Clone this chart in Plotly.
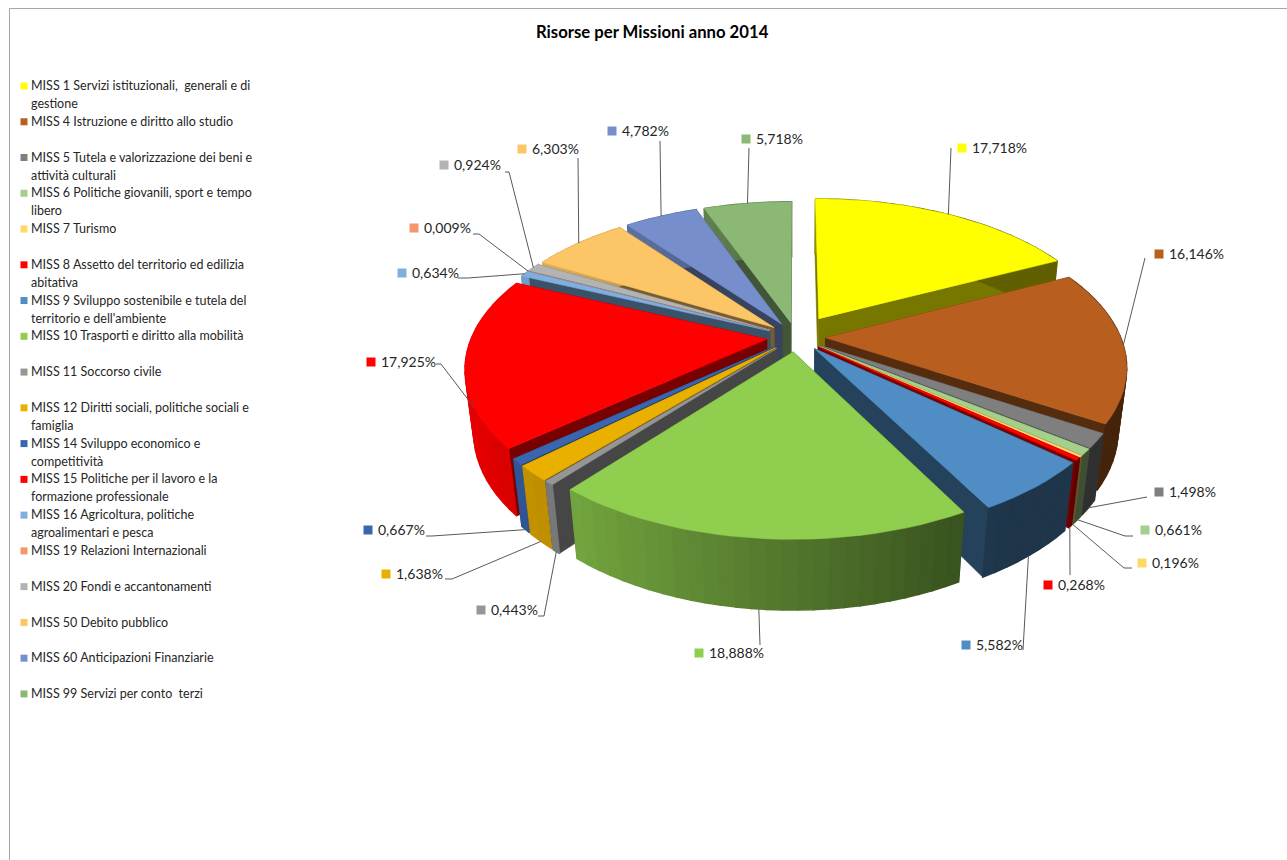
import math
import plotly.graph_objects as go

# ---------- data ----------
TITLE = "Risorse per Missioni anno 2014"
CATEGORIES = [
    "MISS 1 Servizi istituzionali,  generali e di<br>gestione",
    "MISS 4 Istruzione e diritto allo studio",
    "MISS 5 Tutela e valorizzazione dei beni e<br>attività culturali",
    "MISS 6 Politiche giovanili, sport e tempo<br>libero",
    "MISS 7 Turismo",
    "MISS 8 Assetto del territorio ed edilizia<br>abitativa",
    "MISS 9 Sviluppo sostenibile e tutela del<br>territorio e dell'ambiente",
    "MISS 10 Trasporti e diritto alla mobilità",
    "MISS 11 Soccorso civile",
    "MISS 12 Diritti sociali, politiche sociali e<br>famiglia",
    "MISS 14 Sviluppo economico e<br>competitività",
    "MISS 15 Politiche per il lavoro e la<br>formazione professionale",
    "MISS 16 Agricoltura, politiche<br>agroalimentari e pesca",
    "MISS 19 Relazioni Internazionali",
    "MISS 20 Fondi e accantonamenti",
    "MISS 50 Debito pubblico",
    "MISS 60 Anticipazioni Finanziarie",
    "MISS 99 Servizi per conto  terzi",
]
VALUES = [17.718, 16.146, 1.498, 0.661, 0.196, 0.268, 5.582, 18.888, 0.443,
          1.638, 0.667, 17.925, 0.634, 0.009, 0.924, 6.303, 4.782, 5.718]

# ---------- style ----------
COLORS = ["#FFFF00", "#B85F20", "#7F7F7F", "#A5CF8C", "#FFD966", "#FF0000",
          "#508DC5", "#8FCE4E", "#969696", "#EAB000", "#3A66B0", "#FF0000",
          "#7FAEDF", "#F4976C", "#B3B3B3", "#FCC566", "#768FCC", "#8BB874"]
EXPLODE = [0.15] + [0.10] * 17
LEGEND_SLOT = [0, 2, 4, 6, 8, 10, 12, 14, 16, 18, 20, 22, 24, 26, 28, 30, 32, 34]
LABEL_MARK = [(962, 148), (1159, 254), (1159, 492), (1145, 530), (1142, 563),
              (1048, 585), (966, 645), (699, 653), (481, 610), (386, 574),
              (368, 530), (371, 362), (402, 273), (414, 228), (444, 165),
              (522, 149), (612, 131), (746, 139)]
LABEL_ELBOW = [[(951, 148)], [(1145, 258)], [(1147, 497)], [(1133, 536), (1125, 536)],
               [(1132, 568), (1124, 568)], [(1070, 575)], [(1023, 650)], [(760, 645)],
               [(538, 616), (544, 616)], [(445, 579), (452, 579)], [(426, 536), (432, 536)],
               [(436, 364), (441, 364)], [(458, 278), (468, 278)], [(473, 234), (479, 234)],
               [(505, 172), (509, 172)], [(578, 158)], [(660, 141)], [(749, 148)]]
LEADER_SHIFT_DEG = {11: -17.0}

CX, CY = 796.0, 337.0
D, F = 4.8, 1416.0
SIN_A, COS_A = 0.50, 0.866
H = 0.25
FONT = "Lato"
TXT = "#262626"


def proj(X, Y, Z=0.0):
    v = Y * SIN_A + Z * COS_A
    w = D + Y * COS_A - Z * SIN_A
    return CX + F * X / w, CY - F * v / w


def shade(hexc, f):
    r, g, b = (int(hexc[i:i + 2], 16) for i in (1, 3, 5))
    return f"rgb({int(r * f)},{int(g * f)},{int(b * f)})"


def poly(pts, color, width=0.6):
    xs = [p[0] for p in pts] + [pts[0][0]]
    ys = [p[1] for p in pts] + [pts[0][1]]
    return go.Scatter(x=xs, y=ys, mode="lines", fill="toself", fillcolor=color,
                      line=dict(color=color, width=width), hoverinfo="skip", showlegend=False)


fig = go.Figure()

# frame
fig.add_shape(type="line", x0=9.5, x1=9.5, y0=8.5, y1=860, line=dict(color="#A6A6A6", width=1))
fig.add_shape(type="line", x0=9.5, x1=1287, y0=8.5, y1=8.5, line=dict(color="#A6A6A6", width=1))

# slice geometry
total = sum(VALUES)
slices = []
acc = 0.0
for i, v in enumerate(VALUES):
    a0 = acc / total * 2 * math.pi
    acc += v
    a1 = acc / total * 2 * math.pi
    mid = (a0 + a1) / 2
    ox, oy = EXPLODE[i] * math.sin(mid), EXPLODE[i] * math.cos(mid)
    slices.append(dict(i=i, a0=a0, a1=a1, mid=mid, ox=ox, oy=oy))

# back-to-front drawing
for s in sorted(slices, key=lambda q: -(math.cos(q["mid"]) * 0.6 + q["oy"])):
    i, a0, a1, ox, oy = s["i"], s["a0"], s["a1"], s["ox"], s["oy"]
    col = COLORS[i]
    n = max(1, int((a1 - a0) / math.radians(2.5)))
    ang = [a0 + (a1 - a0) * k / n for k in range(n + 1)]
    rim = [(ox + math.sin(t), oy + math.cos(t)) for t in ang]
    # radial walls
    for (X, Y) in (rim[0], rim[-1]):
        fig.add_trace(poly([proj(ox, oy), proj(X, Y), proj(X, Y, -H), proj(ox, oy, -H)],
                           shade(col, 0.47)))
    # rim wall, lit from the left; segments painted left-to-right with overlap
    order = sorted(range(n), key=lambda k: math.sin(ang[k]))
    for k in order:
        xm = (math.sin(ang[k]) + math.sin(ang[k + 1])) / 2
        f = min(0.9, max(0.38, 0.573 - 0.36 * xm))
        fig.add_trace(poly([proj(*rim[k]), proj(*rim[k + 1]),
                            proj(*rim[k + 1], -H), proj(*rim[k], -H)], shade(col, f), 1.4))
    # top face
    fig.add_trace(poly([proj(ox, oy)] + [proj(*p) for p in rim], col))

# leaders
for s in slices:
    i = s["i"]
    t = s["mid"] + math.radians(LEADER_SHIFT_DEG.get(i, 0.0))
    X = s["ox"] + math.sin(t)
    Y = s["oy"] + math.cos(t)
    anchor = proj(X, Y, -H if math.cos(s["mid"]) < -0.3 else 0.0)
    pts = LABEL_ELBOW[i] + [anchor]
    fig.add_trace(go.Scatter(x=[p[0] for p in pts], y=[p[1] for p in pts], mode="lines",
                             line=dict(color="#595959", width=1), hoverinfo="skip", showlegend=False))

# data labels
fig.add_trace(go.Scatter(
    x=[p[0] for p in LABEL_MARK], y=[p[1] for p in LABEL_MARK], mode="markers",
    marker=dict(symbol="square", size=9, color=COLORS, line=dict(width=0)),
    hoverinfo="skip", showlegend=False))
fig.add_trace(go.Scatter(
    x=[p[0] + 10 for p in LABEL_MARK], y=[p[1] + 1 for p in LABEL_MARK], mode="text",
    text=[f"{v:.3f}".replace(".", ",") + "%" for v in VALUES], textposition="middle right",
    textfont=dict(family=FONT, size=14, color=TXT), hoverinfo="skip", showlegend=False))

# legend column
LEG_X, LEG_Y, LEG_STEP = 24, 86, 17.88
leg_y = [LEG_Y + sl * LEG_STEP for sl in LEGEND_SLOT]
fig.add_trace(go.Scatter(
    x=[LEG_X] * len(leg_y), y=leg_y, mode="markers",
    marker=dict(symbol="square", size=7, color=COLORS, line=dict(width=0)),
    hoverinfo="skip", showlegend=False))
tx, ty, tt = [], [], []
for y0, c in zip(leg_y, CATEGORIES):
    for j, line in enumerate(c.split("<br>")):
        tx.append(LEG_X + 7)
        ty.append(y0 + j * LEG_STEP + 1)
        tt.append(line)
fig.add_trace(go.Scatter(
    x=tx, y=ty, mode="text", text=tt, textposition="middle right",
    textfont=dict(family=FONT, size=12.5, color=TXT), hoverinfo="skip", showlegend=False))

fig.add_annotation(x=652.5, y=32, xref="x", yref="y", text=f"<b>{TITLE}</b>", showarrow=False,
                   font=dict(family=FONT, size=16.7, color="#000000"))

fig.update_layout(
    width=1287, height=860, margin=dict(l=0, r=0, t=0, b=0),
    paper_bgcolor="white", plot_bgcolor="white", showlegend=False,
    xaxis=dict(range=[0, 1287], visible=False, fixedrange=True),
    yaxis=dict(range=[860, 0], visible=False, fixedrange=True),
)
fig.write_html("out.html", config=dict(displayModeBar=False),
               post_script="document.body.style.margin='0';document.documentElement.style.overflow='hidden';")
